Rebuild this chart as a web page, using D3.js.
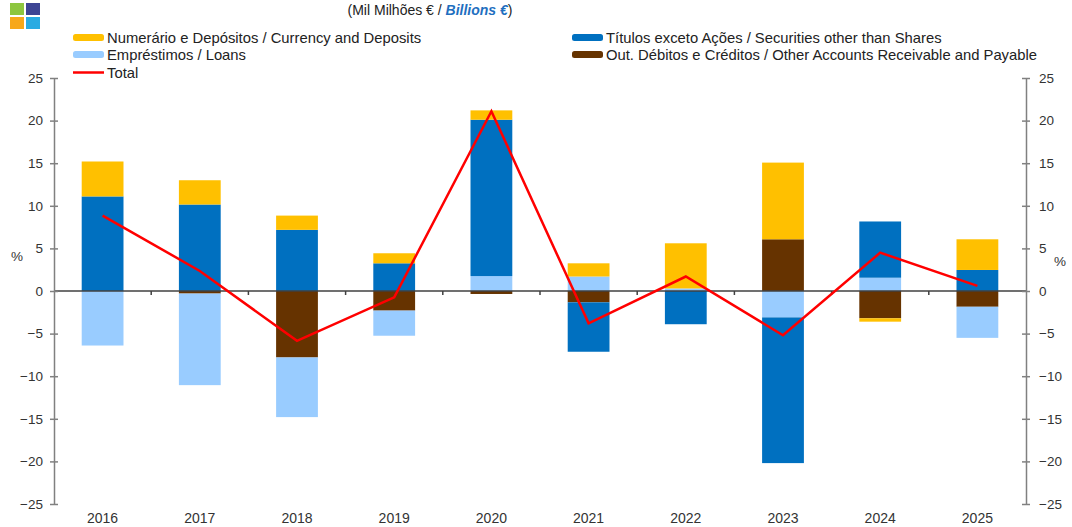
<!DOCTYPE html>
<html><head><meta charset="utf-8">
<script src="https://cdn.jsdelivr.net/npm/d3@7"></script>
<style>body{margin:0;background:#fff;}svg{display:block;font-family:"Liberation Sans",Arial,sans-serif;}</style>
</head><body><svg id="c" width="1072" height="527"></svg>
<script>
const years = ["2016","2017","2018","2019","2020","2021","2022","2023","2024","2025"];
const currency = [4.1, 2.85, 1.67, 1.18, 1.1, 1.55, 5.3, 9.0, -0.4, 3.6];
const securities = [11.1, 10.15, 7.18, 3.25, 18.35, -5.8, -3.9, -17.1, 6.6, 2.47];
const loans = [-6.4, -10.75, -7.0, -2.95, 1.75, 1.7, 0.3, -3.1, 1.56, -3.65];
const otherAcc = [0, -0.3, -7.8, -2.3, -0.35, -1.33, 0, 6.07, -3.2, -1.85];
const total = [8.85, 2.35, -5.85, -0.75, 21.1, -3.8, 1.7, -5.2, 4.5, 0.6];
const yTicks = [25, 20, 15, 10, 5, 0, -5, -10, -15, -20, -25];
const seriesNames = ["otherAcc","loans","securities","currency"];
const colors = {currency:"#FFC000", securities:"#0070C0", loans:"#99CCFF", otherAcc:"#663300", total:"#FF0000"};
const legendLabels = {
  currency:"Numerário e Depósitos / Currency and Deposits",
  securities:"Títulos exceto Ações / Securities other than Shares",
  loans:"Empréstimos / Loans",
  otherAcc:"Out. Débitos e Créditos / Other Accounts Receivable and Payable",
  total:"Total"
};

(function(){
const svg = d3.select("#c");
const mLeft = 54, mRight = 1026, mTop = 78, mBottom = 504;
const x = d3.scaleBand().domain(years).range([mLeft, mRight]).padding(0);
const y = d3.scaleLinear().domain([-25, 25]).range([mBottom, mTop]);
const barW = x.bandwidth() * 0.43;

const table = years.map((yr, i) => ({year: yr, currency: currency[i], securities: securities[i], loans: loans[i], otherAcc: otherAcc[i]}));
const stack = d3.stack().keys(seriesNames).offset(d3.stackOffsetDiverging);
const stacked = stack(table);

// logo
const logo = [["#8DC63F",0,0],["#3D4594",1,0],["#F7A81B",0,1],["#29ABE2",1,1]];
svg.selectAll("rect.logo").data(logo).join("rect").attr("class","logo")
  .attr("x", d => 10 + d[1]*16).attr("y", d => 3 + d[2]*14).attr("width", 14).attr("height", 12).attr("fill", d => d[0]);

// title
const t = svg.append("text").attr("x", 430).attr("y", 15).attr("text-anchor","middle").attr("font-size", 14).attr("fill","#222");
t.append("tspan").text("(Mil Milhões € / ");
t.append("tspan").text("Billions €").attr("font-style","italic").attr("font-weight","bold").attr("fill","#1F6FBF");
t.append("tspan").text(")");

// legend
const legendItems = [
  {k:"currency", x:73, y:37.5}, {k:"securities", x:572, y:37.5},
  {k:"loans", x:73, y:54.5}, {k:"otherAcc", x:572, y:54.5},
  {k:"total", x:73, y:72.5}
];
const lg = svg.append("g");
legendItems.forEach(it => {
  if (it.k === "total") {
    lg.append("line").attr("x1", it.x).attr("x2", it.x+31).attr("y1", it.y).attr("y2", it.y).attr("stroke", colors.total).attr("stroke-width", 2.5);
  } else {
    lg.append("rect").attr("x", it.x).attr("y", it.y-3.5).attr("width", 31).attr("height", 7).attr("rx", 2.5).attr("fill", colors[it.k]);
  }
  lg.append("text").attr("x", it.x+34).attr("y", it.y+5.2).attr("font-size", 14.8).attr("fill","#222").text(legendLabels[it.k]);
});

// bars
svg.append("g").selectAll("g").data(stacked).join("g").attr("fill", d => colors[d.key])
  .selectAll("rect").data(d => d).join("rect")
  .attr("x", d => x(d.data.year) + (x.bandwidth()-barW)/2)
  .attr("width", barW)
  .attr("y", d => y(Math.max(d[0], d[1])))
  .attr("height", d => Math.abs(y(d[0]) - y(d[1])));

// zero line
svg.append("line").attr("x1", mLeft).attr("x2", mRight).attr("y1", y(0)).attr("y2", y(0)).attr("stroke","#404040").attr("stroke-width",1.5);
svg.append("g").selectAll("line").data(years.slice(1)).join("line")
  .attr("x1", d => x(d)).attr("x2", d => x(d)).attr("y1", y(0)).attr("y2", y(0)+4).attr("stroke","#404040").attr("stroke-width",1.5);

// total line
svg.append("path").datum(total)
  .attr("d", d3.line().x((d,i) => x(years[i]) + x.bandwidth()/2).y(d => y(d)))
  .attr("fill","none").attr("stroke", colors.total).attr("stroke-width", 2.5);

// axes
const axL = svg.append("g").attr("transform", `translate(${mLeft},0)`)
  .call(d3.axisLeft(y).tickValues(yTicks).tickSize(4).tickSizeOuter(0).tickFormat(d3.format("d")));
const axR = svg.append("g").attr("transform", `translate(${mRight},0)`)
  .call(d3.axisRight(y).tickValues(yTicks).tickSize(4).tickSizeOuter(0).tickFormat(d3.format("d")));
[axL, axR].forEach((ax, j) => {
  ax.select(".domain").attr("stroke","#808080").attr("stroke-width",1.5);
  ax.selectAll(".tick line").attr("stroke","#808080").attr("stroke-width",1.5).attr("x1", j===0 ? 4 : -4).attr("x2", j===0 ? -4 : 4);
  ax.selectAll(".tick text").attr("font-size", 13.5).attr("fill","#333").attr("font-family","Liberation Sans, Arial, sans-serif")
    .attr("x", j===0 ? -11 : 13);
});

// x labels
svg.append("g").selectAll("text").data(years).join("text")
  .attr("x", d => x(d) + x.bandwidth()/2).attr("y", 523).attr("text-anchor","middle")
  .attr("font-size", 14).attr("fill","#333").text(d => d);

// % labels
svg.append("text").attr("x", 17).attr("y", 261).attr("text-anchor","middle").attr("font-size",13.5).attr("fill","#333").text("%");
svg.append("text").attr("x", 1060).attr("y", 266).attr("text-anchor","middle").attr("font-size",13.5).attr("fill","#333").text("%");
})();
</script></body></html>
